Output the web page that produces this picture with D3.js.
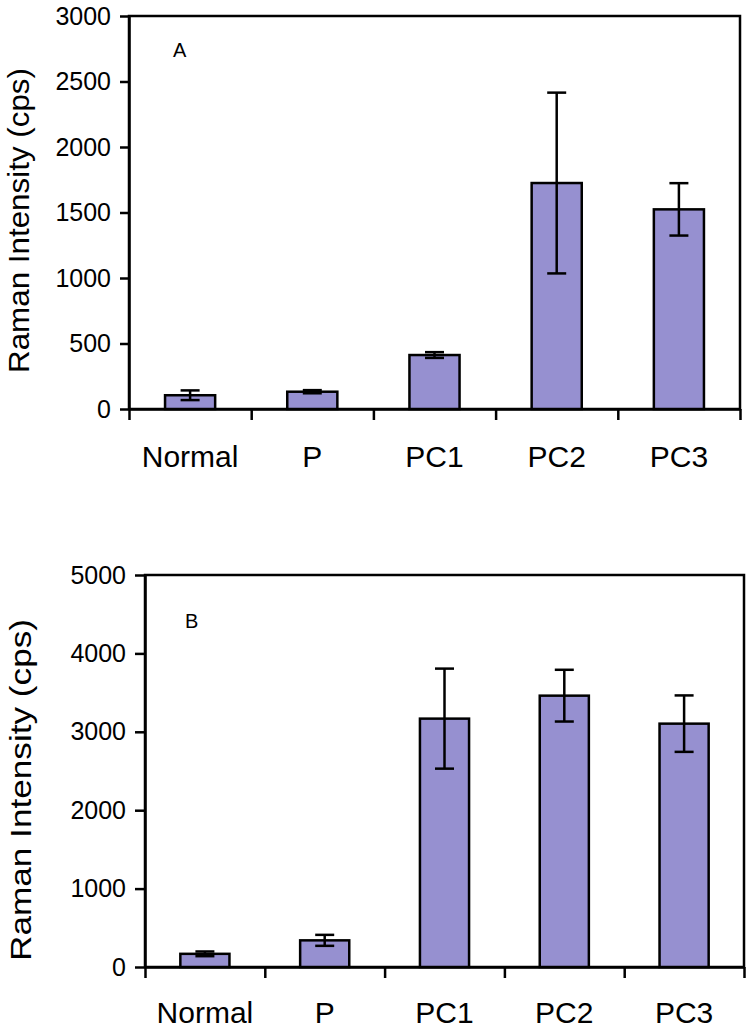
<!DOCTYPE html>
<html>
<head>
<meta charset="utf-8">
<script src="https://cdn.jsdelivr.net/npm/d3@7"></script>
<style>
  body { margin: 0; background: #fff; }
  svg { display: block; font-family: "Liberation Sans", Arial, sans-serif; }
</style>
</head>
<body>
<div id="chart"></div>
<script>
'use strict'

// the data
const categories = ['Normal', 'P', 'PC1', 'PC2', 'PC3']
const meansA = [105, 132, 412, 1725, 1524]
const errorsA = [37, 12, 22, 690, 200]
const meansB = [168, 340, 3168, 3461, 3104]
const errorsB = [30, 70, 638, 330, 360]
const ticksA = [0, 500, 1000, 1500, 2000, 2500, 3000]
const ticksB = [0, 1000, 2000, 3000, 4000, 5000]

const barFill = '#9690d0'

const svg = d3.select('#chart').append('svg')
    .attr('width', 752)
    .attr('height', 1030)

// one panel, box + bars + error bars
function panel(opts) {
    const { left, right, top, bottom, means, errors, ticks, yMax, letter, letterPos, titleX, titleLen, yTickSize, labelY } = opts
    const w = right - left
    const h = bottom - top
    const g = svg.append('g').attr('transform', `translate(${left},${top})`)

    const x = d3.scaleBand().domain(categories).range([0, w])
        .paddingInner(0.59).paddingOuter(0.295)
    const xLab = d3.scaleBand().domain(categories).range([0, w])
    const xIdx = d3.scaleLinear().domain([0, categories.length]).range([0, w])
    const y = d3.scaleLinear().domain([0, yMax]).range([h, 0])

    // frame
    g.append('rect')
        .attr('width', w).attr('height', h)
        .attr('fill', 'none').attr('stroke', '#000').attr('stroke-width', 2.5)

    // bars
    g.selectAll('rect.bar').data(means).enter().append('rect')
        .attr('class', 'bar')
        .attr('x', (d, i) => x(categories[i]))
        .attr('y', d => y(d))
        .attr('width', x.bandwidth())
        .attr('height', d => h - y(d))
        .attr('fill', barFill)
        .attr('stroke', '#000')
        .attr('stroke-width', 2.5)

    // error bars
    const cap = 9.5
    const eb = g.selectAll('g.err').data(means).enter().append('g')
        .attr('class', 'err')
        .attr('transform', (d, i) => `translate(${x(categories[i]) + x.bandwidth() / 2},0)`)
        .attr('stroke', '#000').attr('stroke-width', 2.5)
    eb.append('line')
        .attr('y1', (d, i) => y(d + errors[i]))
        .attr('y2', (d, i) => y(d - errors[i]))
    eb.append('line')
        .attr('x1', -cap).attr('x2', cap)
        .attr('y1', (d, i) => y(d + errors[i])).attr('y2', (d, i) => y(d + errors[i]))
    eb.append('line')
        .attr('x1', -cap).attr('x2', cap)
        .attr('y1', (d, i) => y(d - errors[i])).attr('y2', (d, i) => y(d - errors[i]))

    // y axis
    const ya = g.append('g')
        .call(d3.axisLeft(y).tickValues(ticks).tickFormat(d3.format('d')).tickSize(yTickSize).tickSizeOuter(0).tickPadding(9))
    ya.select('.domain').attr('stroke-width', 2.5)
    ya.selectAll('.tick line').attr('stroke-width', 2.5)
    ya.selectAll('.tick text').attr('font-size', 25).attr('fill', '#000')
        .attr('font-family', '"Liberation Sans", Arial, sans-serif')

    // x axis: tick marks at category boundaries
    const xa = g.append('g').attr('transform', `translate(0,${h})`)
        .call(d3.axisBottom(xIdx).tickValues(d3.range(categories.length + 1)).tickFormat('').tickSize(11).tickSizeOuter(0))
    xa.select('.domain').attr('stroke-width', 2.5)
    xa.selectAll('.tick line').attr('stroke-width', 2.5)

    // category labels
    g.selectAll('text.cat').data(categories).enter().append('text')
        .attr('class', 'cat')
        .attr('x', d => xLab(d) + xLab.bandwidth() / 2)
        .attr('y', h + labelY)
        .attr('text-anchor', 'middle')
        .attr('font-size', 30)
        .text(d => d)

    // panel letter
    g.append('text')
        .attr('x', letterPos[0]).attr('y', letterPos[1])
        .attr('font-size', 20)
        .text(letter)

    // y title
    svg.append('text')
        .attr('transform', `translate(${titleX},${top + h / 2 + opts.titleShift}) rotate(-90)`)
        .attr('text-anchor', 'middle')
        .attr('font-size', 30)
        .attr('textLength', titleLen)
        .attr('lengthAdjust', 'spacingAndGlyphs')
        .text('Raman Intensity (cps)')
}

panel({
    left: 129, right: 740, top: 16, bottom: 409,
    means: meansA, errors: errorsA, ticks: ticksA, yMax: 3000,
    letter: 'A', letterPos: [44, 41], titleX: 29, titleLen: 305, titleShift: 8,
    yTickSize: 9, labelY: 58
})

panel({
    left: 145, right: 744, top: 575, bottom: 967,
    means: meansB, errors: errorsB, ticks: ticksB, yMax: 5000,
    letter: 'B', letterPos: [40, 53], titleX: 31, titleLen: 342, titleShift: 19,
    yTickSize: 10, labelY: 56
})
</script>
</body>
</html>
